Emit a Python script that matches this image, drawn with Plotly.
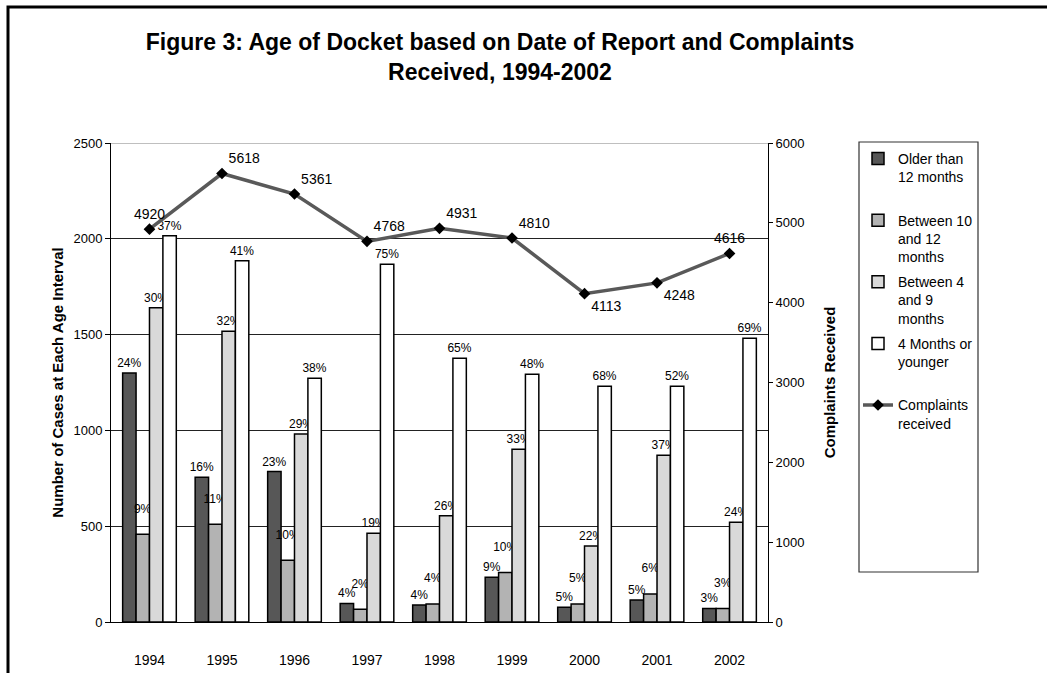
import plotly.graph_objects as go

years = ["1994", "1995", "1996", "1997", "1998", "1999", "2000", "2001", "2002"]

older_12 = [1300, 755, 785, 97, 89, 233, 77, 115, 71]
between_10_12 = [458, 510, 322, 66, 94, 259, 94, 146, 71]
between_4_9 = [1640, 1517, 981, 463, 555, 901, 397, 870, 520]
under_4 = [2016, 1886, 1272, 1867, 1376, 1293, 1230, 1230, 1481]

pct_older_12 = ["24%", "16%", "23%", "4%", "4%", "9%", "5%", "5%", "3%"]
pct_between_10_12 = ["9%", "11%", "10%", "2%", "4%", "10%", "5%", "6%", "3%"]
pct_between_4_9 = ["30%", "32%", "29%", "19%", "26%", "33%", "22%", "37%", "24%"]
pct_under_4 = ["37%", "41%", "38%", "75%", "65%", "48%", "68%", "52%", "69%"]

complaints = [4920, 5618, 5361, 4768, 4931, 4810, 4113, 4248, 4616]
complaint_label_pos = ["top center", "top right", "top right", "top right", "top right",
                       "top right", "bottom right", "bottom right", "top center"]

Y_MAX = 2500
Y2_MAX = 6000

W, H = 1047, 673
PL, PR, PT, PB = 111, 768, 143, 622  # plot area in pixels


def px(x):
    return (x - PL) / (PR - PL)


def py(y):
    return (PB - y) / (PB - PT)


FONT = "Liberation Sans, Arial, sans-serif"

fig = go.Figure()

series = [
    ("Older than<br>12 months<br>&nbsp;", older_12, pct_older_12, "#575757", False),
    ("Between 10<br>and 12<br>months", between_10_12, pct_between_10_12, "#b3b3b3", True),
    ("Between 4<br>and 9<br>months", between_4_9, pct_between_4_9, "#d9d9d9", False),
    ("4 Months or<br>younger<br>&nbsp;", under_4, pct_under_4, "#ffffff", False),
]

for i, (name, vals, pcts, color, lift) in enumerate(series):
    labels = [f"{p}<br>&nbsp;" for p in pcts] if lift else pcts
    fig.add_trace(go.Bar(
        x=years, y=vals, name=name, legendgroup=f"g{i}",
        marker=dict(color=color, line=dict(color="black", width=1.5)),
        text=labels, textposition="outside", textangle=0, constraintext="none",
        cliponaxis=False,
        textfont=dict(family=FONT, size=12, color="black"),
        yaxis="y",
    ))

fig.add_trace(go.Scatter(
    x=years, y=complaints, name="Complaints<br>received", legendgroup="g4",
    mode="lines+markers+text",
    line=dict(color="#595959", width=3.5),
    marker=dict(symbol="diamond", size=9, color="black"),
    text=[str(v) for v in complaints], textposition=complaint_label_pos,
    textfont=dict(family=FONT, size=14, color="black"),
    cliponaxis=False,
    yaxis="y2",
))

shapes = [
    # outer frame (left + top)
    dict(type="path", xref="paper", yref="paper",
         path=f"M {px(8)} {py(H + 5)} L {px(8)} {py(7)} L {px(W + 5)} {py(7)}",
         line=dict(color="black", width=3)),
    # legend box
    dict(type="rect", xref="paper", yref="paper",
         x0=px(859), x1=px(978), y0=py(572), y1=py(142),
         line=dict(color="#333333", width=1.2), fillcolor="rgba(0,0,0,0)"),
    # top gridline at the axis maximum
    dict(type="line", xref="paper", yref="y", x0=0, x1=1, y0=Y_MAX, y1=Y_MAX,
         line=dict(color="#808080", width=1.2), layer="below"),
]

fig.update_layout(
    template="none",
    width=W, height=H, autosize=False,
    margin=dict(l=PL, r=W - PR, t=PT, b=H - PB, pad=0, autoexpand=False),
    paper_bgcolor="white", plot_bgcolor="white",
    font=dict(family=FONT, size=13, color="black"),
    title=dict(
        text="<b>Figure 3: Age of Docket based on Date of Report and Complaints<br>Received, 1994-2002</b>",
        xref="paper", x=px(500), xanchor="center",
        yref="container", y=1 - 50 / H, yanchor="middle",
        font=dict(family=FONT, size=23, color="black"),
        automargin=False,
    ),
    barmode="group", bargap=0.26, bargroupgap=0.0,
    showlegend=True,
    legend=dict(
        x=px(858), y=py(143), xanchor="left", yanchor="top",
        bgcolor="rgba(0,0,0,0)", borderwidth=0,
        font=dict(family=FONT, size=14, color="black"),
        tracegroupgap=4, traceorder="grouped", valign="top",
    ),
    xaxis=dict(
        type="category", showline=True, linecolor="black", linewidth=1,
        ticks="", ticklabelstandoff=25, showgrid=False, automargin=False,
        tickfont=dict(family=FONT, size=14, color="black"),
    ),
    yaxis=dict(
        range=[0, Y_MAX], dtick=500, showline=True, linecolor="black", linewidth=1,
        ticks="outside", ticklen=5, tickcolor="black", automargin=False,
        showgrid=True, gridcolor="#222222", gridwidth=1, zeroline=False,
        tickfont=dict(family=FONT, size=13, color="black"),
        title=dict(text="<b>Number of Cases at Each Age Interval</b>", standoff=6,
                   font=dict(family=FONT, size=15, color="black")),
    ),
    yaxis2=dict(
        range=[0, Y2_MAX], dtick=1000, overlaying="y", side="right",
        showline=True, linecolor="black", linewidth=1, automargin=False,
        ticks="outside", ticklen=4, tickcolor="black",
        showgrid=False, zeroline=False,
        tickfont=dict(family=FONT, size=13, color="black"),
        title=dict(text="<b>Complaints Received</b>", standoff=20,
                   font=dict(family=FONT, size=15, color="black")),
    ),
    shapes=shapes,
)

fig.write_html("out.html", config={"displayModeBar": False},
               post_script="document.body.style.margin='0';")
